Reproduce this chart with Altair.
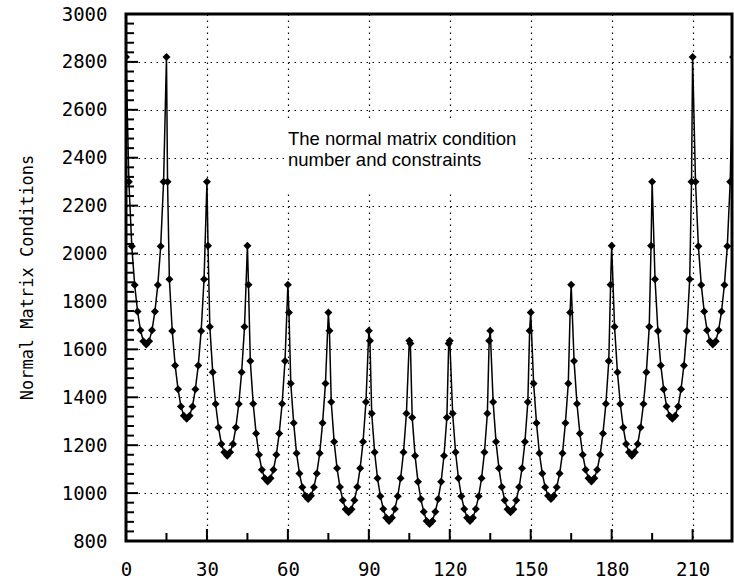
import altair as alt
import pandas as pd

# ---------------- data ----------------
peak_values = [2820, 2820, 2300, 2033, 1870, 1754, 1678, 1636,
               1636, 1678, 1754, 1870, 2033, 2300, 2820, 2820]

cycle_01 = [2300, 2030, 1869, 1758, 1680, 1634, 1620, 1634, 1680, 1758, 1869, 2030, 2300]
cycle_02 = [1893, 1677, 1533, 1434, 1362, 1323, 1310, 1323, 1362, 1434, 1533, 1677, 1893]
cycle_03 = [1694, 1504, 1372, 1274, 1205, 1170, 1156, 1170, 1205, 1274, 1372, 1504, 1694]
cycle_04 = [1551, 1373, 1249, 1160, 1097, 1062, 1048, 1062, 1097, 1160, 1249, 1373, 1551]
cycle_05 = [1458, 1293, 1166, 1082, 1024, 989, 975, 989, 1024, 1082, 1166, 1293, 1458]
cycle_06 = [1380, 1214, 1104, 1025, 970, 933, 920, 933, 970, 1025, 1104, 1214, 1380]
cycle_07 = [1332, 1171, 1062, 987, 934, 897, 884, 897, 934, 987, 1062, 1171, 1332]
cycle_08 = [1316, 1156, 1047, 975, 922, 884, 871, 884, 922, 975, 1047, 1156, 1316]
cycle_09 = [1332, 1171, 1062, 987, 934, 897, 884, 897, 934, 987, 1062, 1171, 1332]
cycle_10 = [1380, 1214, 1104, 1025, 970, 933, 920, 933, 970, 1025, 1104, 1214, 1380]
cycle_11 = [1458, 1293, 1166, 1082, 1024, 989, 975, 989, 1024, 1082, 1166, 1293, 1458]
cycle_12 = [1551, 1373, 1249, 1160, 1097, 1062, 1048, 1062, 1097, 1160, 1249, 1373, 1551]
cycle_13 = [1694, 1504, 1372, 1274, 1205, 1170, 1156, 1170, 1205, 1274, 1372, 1504, 1694]
cycle_14 = [1893, 1677, 1533, 1434, 1362, 1323, 1310, 1323, 1362, 1434, 1533, 1677, 1893]
cycle_15 = [2300, 2030, 1869, 1758, 1680, 1634, 1620, 1634, 1680, 1758, 1869, 2030, 2300]
cycles = [cycle_01, cycle_02, cycle_03, cycle_04, cycle_05, cycle_06, cycle_07, cycle_08,
          cycle_09, cycle_10, cycle_11, cycle_12, cycle_13, cycle_14, cycle_15]

extra_x = [15.4, 30.4, 45.4, 60.4, 75.4, 90.4, 105.4, 119.6,
           134.6, 149.6, 164.6, 179.6, 194.6, 209.6]
extra_y = [2300, 2033, 1870, 1754, 1678, 1636, 1624, 1624,
           1636, 1678, 1754, 1870, 2033, 2300]

x_labels = [0, 30, 60, 90, 120, 150, 180, 210]
x_minor = [15, 45, 75, 105, 135, 165, 195]
y_labels = [800, 1000, 1200, 1400, 1600, 1800, 2000, 2200, 2400, 2600, 2800, 3000]
y_minor = [v for v in range(800, 3001, 40) if v % 200 != 0]

y_title = "Normal Matrix Conditions"
annotation_lines = ["The normal matrix condition", "number and constraints"]

# ---------------- tables ----------------
rows = []
for k, vals in enumerate(cycles):
    rows.append((15 * k, peak_values[k]))
    for j, v in enumerate(vals, start=1):
        rows.append((15 * k + 15 * j / 14, v))
rows.append((225, peak_values[-1]))
rows += list(zip(extra_x, extra_y))
df = pd.DataFrame(rows, columns=["x", "y"]).sort_values("x").reset_index(drop=True)

W, H = 606, 527
MONO = "DejaVu Sans Mono"

ticks_y = pd.DataFrame({"v": y_labels + y_minor,
                        "len": [12] * len(y_labels) + [8] * len(y_minor)})
ticks_x = pd.DataFrame({"v": x_labels + x_minor,
                        "len": [12] * len(x_labels) + [8] * len(x_minor)})

xscale = alt.Scale(domain=[0, 224.6], nice=False, zero=False)
yscale = alt.Scale(domain=[800, 3000], nice=False, zero=False)

xaxis = alt.Axis(values=x_labels, grid=True, gridDash=[1.5, 4.5], gridColor="black",
                 gridWidth=1.2, tickSize=0, domain=False, labelFont=MONO, format="d",
                 labelFontSize=19, labelColor="black", labelPadding=19, title=None,
                 labelFlush=False, labelOverlap=False)
yaxis = alt.Axis(values=y_labels, grid=True, gridDash=[1.5, 4.5], gridColor="black",
                 gridWidth=1.2, tickSize=0, domain=False, labelFont=MONO, format="d",
                 labelFontSize=19, labelColor="black", labelPadding=19, title=None,
                 labelFlush=False, labelOverlap=False)


def X(field):
    return alt.X(field, type="quantitative", scale=xscale, axis=xaxis)


def Y(field):
    return alt.Y(field, type="quantitative", scale=yscale, axis=yaxis)


base = alt.Chart(df)
line = base.mark_line(color="black", strokeWidth=1.5, clip=True).encode(x=X("x"), y=Y("y"))
pts = base.mark_point(shape="diamond", filled=True, size=64, color="black", opacity=1,
                      clip=True).encode(x=X("x"), y=Y("y"))

# inward tick marks, drawn as short rules starting at the frame
yticks = alt.Chart(ticks_y).transform_calculate(x0="0").mark_rule(
    color="black", strokeWidth=2).encode(
    y=Y("v"),
    x=alt.X("x0:Q", scale=None, axis=None),
    x2=alt.X2("len"))
xticks = alt.Chart(ticks_x).transform_calculate(y0=str(H), y1=f"{H} - datum.len").mark_rule(
    color="black", strokeWidth=2).encode(
    x=X("v"),
    y=alt.Y("y0:Q", scale=None, axis=None),
    y2=alt.Y2("y1:Q"))

one = pd.DataFrame({"k": [0]})
box = alt.Chart(one).mark_rect(color="white").encode(
    x=alt.value(159), x2=alt.value(402), y=alt.value(106), y2=alt.value(178))
note = alt.Chart(one).mark_text(align="left", baseline="alphabetic", font="Liberation Sans",
                                fontSize=18.5, lineHeight=21, color="black").encode(
    x=alt.value(162), y=alt.value(131), text=alt.value(annotation_lines))
ytitle = alt.Chart(one).mark_text(angle=270, align="center", baseline="middle", font=MONO,
                                  fontSize=17, color="black").encode(
    x=alt.value(-98), y=alt.value(H / 2), text=alt.value(y_title))

chart = alt.layer(box, note, yticks, xticks, line, pts, ytitle).properties(
    width=W, height=H,
    autosize=alt.AutoSizeParams(type="none"),
    padding={"left": 126, "top": 14, "right": 2, "bottom": 39},
    background="white",
).configure_view(stroke="black", strokeWidth=3)

chart.save("out.html", embed_options={"renderer": "svg", "actions": False})
